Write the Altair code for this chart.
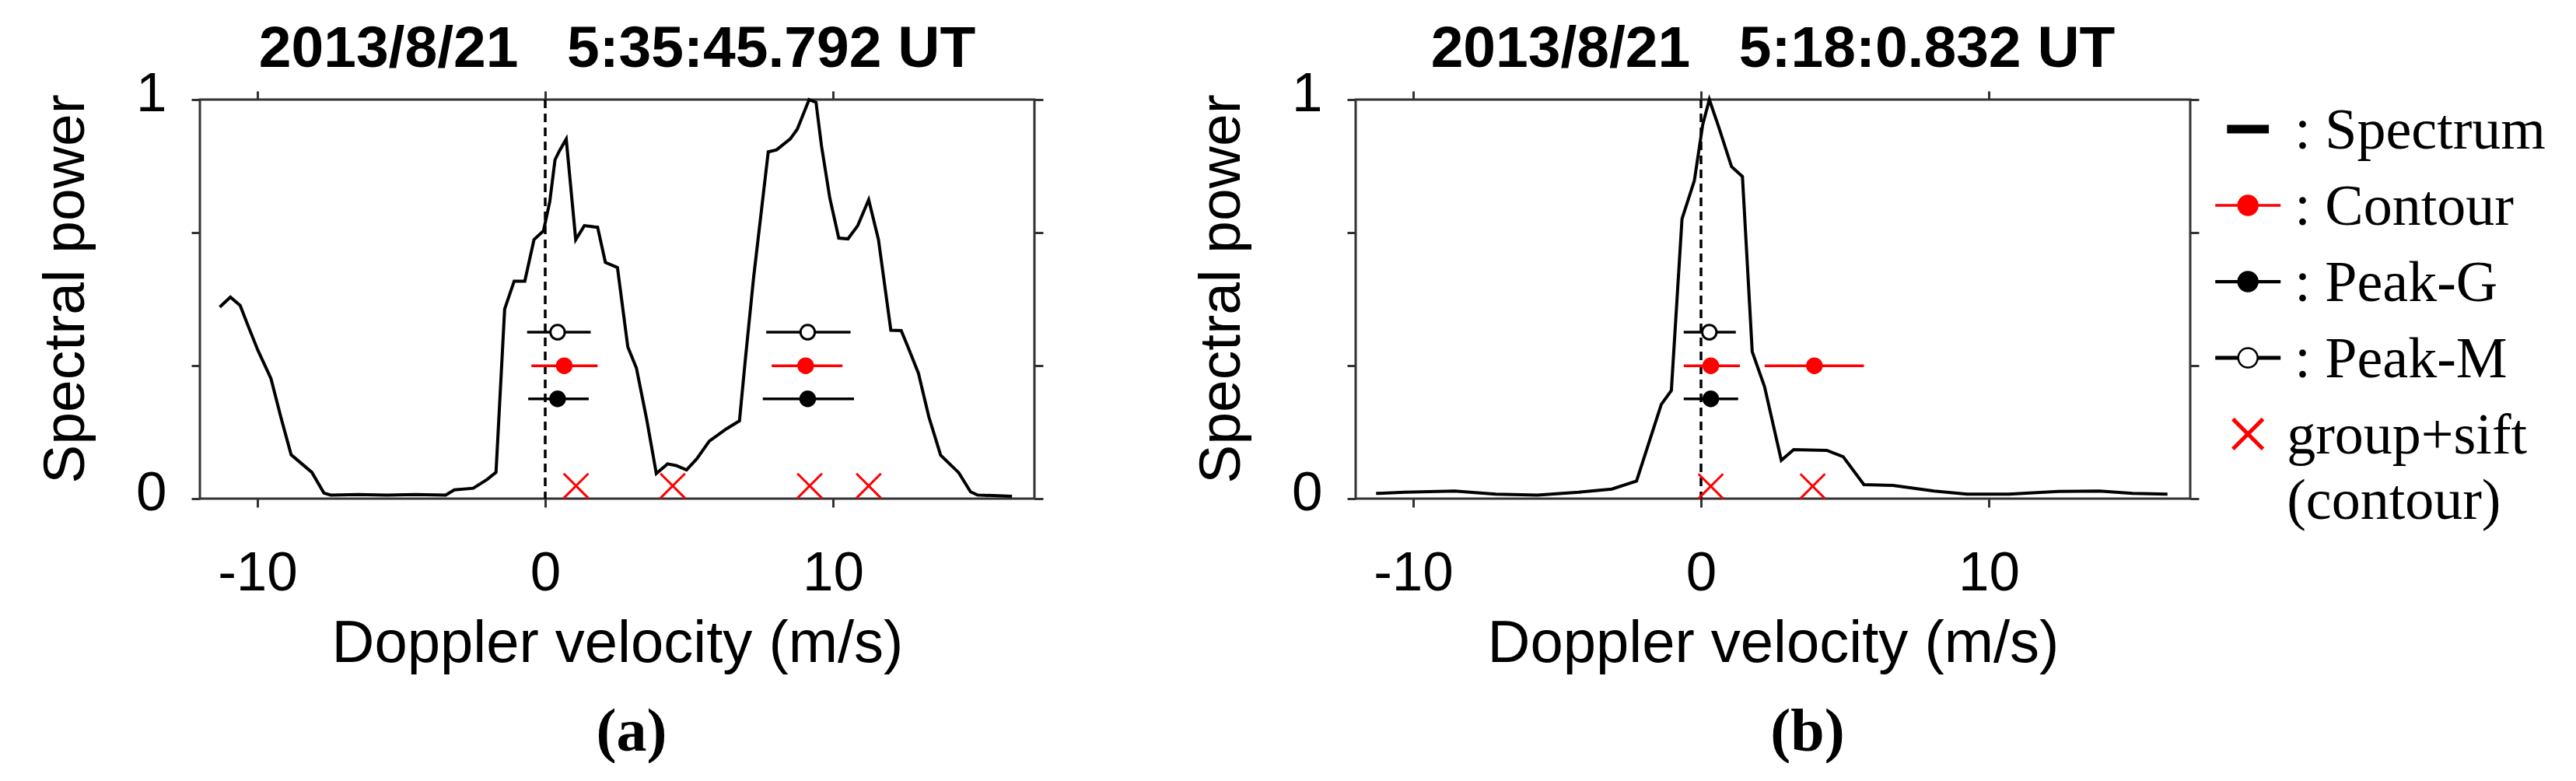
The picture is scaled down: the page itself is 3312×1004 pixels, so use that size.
import altair as alt
import pandas as pd

# ---------------- data ----------------
# Panel (a) spectrum
a_vel = [-11.31, -10.94, -10.60, -10.32, -9.98, -9.53, -9.19, -8.83, -8.47, -8.11,
         -7.69, -7.45, -6.5, -5.5, -4.5, -3.46, -3.16, -2.50, -2.02, -1.71,
         -1.41, -1.08, -0.71, -0.39, -0.06, 0.16, 0.34, 0.49, 0.73, 1.06,
         1.36, 1.82, 2.09, 2.51, 2.87, 3.17, 3.53, 3.86, 4.25, 4.55,
         4.91, 5.27, 5.70, 6.30, 6.75, 6.96, 7.24, 7.75, 8.04, 8.52,
         8.76, 9.17, 9.41, 9.60, 9.89, 10.20, 10.52, 10.86, 11.24, 11.58,
         12.01, 12.37, 12.61, 12.97, 13.33, 13.74, 14.37, 14.78, 15.02, 16.22]
a_pow = [0.480, 0.505, 0.484, 0.432, 0.371, 0.301, 0.205, 0.110, 0.088, 0.066,
         0.014, 0.009, 0.010, 0.009, 0.010, 0.009, 0.022, 0.026, 0.048, 0.066,
         0.475, 0.545, 0.545, 0.649, 0.671, 0.745, 0.849, 0.871, 0.901, 0.649,
         0.684, 0.680, 0.592, 0.579, 0.380, 0.327, 0.197, 0.063, 0.087, 0.083,
         0.072, 0.100, 0.144, 0.175, 0.195, 0.353, 0.553, 0.869, 0.874, 0.902,
         0.926, 1.000, 0.993, 0.884, 0.753, 0.653, 0.651, 0.684, 0.749, 0.649,
         0.422, 0.421, 0.379, 0.314, 0.205, 0.109, 0.065, 0.017, 0.009, 0.006]

# Panel (b) spectrum
b_vel = [-11.29, -10.29, -8.56, -7.13, -5.69, -4.25, -3.10, -2.24, -1.81, -1.38,
         -1.03, -0.66, -0.23, 0.06, 0.29, 0.63, 1.06, 1.44, 1.78, 2.21,
         2.79, 3.22, 4.37, 4.94, 5.66, 6.67, 8.10, 9.25, 10.69, 12.41,
         13.85, 15.00, 16.21]
b_pow = [0.013, 0.016, 0.019, 0.011, 0.009, 0.016, 0.024, 0.044, 0.140, 0.236,
         0.271, 0.701, 0.797, 0.937, 1.000, 0.928, 0.832, 0.807, 0.368, 0.280,
         0.096, 0.123, 0.121, 0.105, 0.035, 0.033, 0.019, 0.011, 0.011, 0.018,
         0.019, 0.013, 0.011]

# Estimates (centre and width) per method
a_method = ["Peak-M", "Contour", "Peak-G", "Peak-M", "Contour", "Peak-G"]
a_center = [0.43, 0.66, 0.43, 9.12, 9.05, 9.12]
a_lo = [-0.63, -0.48, -0.59, 7.68, 7.87, 7.56]
a_hi = [1.58, 1.82, 1.51, 10.61, 10.33, 10.73]
a_level = [0.417, 0.333, 0.25, 0.417, 0.333, 0.25]
a_sift_vel = [1.07, 4.43, 9.19, 11.24]
a_sift_pow = [0.032, 0.032, 0.032, 0.032]

b_method = ["Peak-M", "Contour", "Contour", "Peak-G"]
b_center = [0.29, 0.34, 3.94, 0.34]
b_lo = [-0.60, -0.60, 2.21, -0.60]
b_hi = [1.21, 1.35, 5.66, 1.29]
b_level = [0.417, 0.333, 0.333, 0.25]
b_sift_vel = [0.34, 3.88]
b_sift_pow = [0.031, 0.031]

x_ticks = [-10, 0, 10]
y_ticks = [0, 1 / 3, 2 / 3, 1]

title_a = "2013/8/21\u00a0\u00a0\u00a05:35:45.792 UT"
title_b = "2013/8/21\u00a0\u00a0\u00a05:18:0.832 UT"

methods = ["Contour", "Peak-G", "Peak-M"]
method_stroke = ["#ff0000", "#000000", "#000000"]
method_fill = ["#ff0000", "#000000", "#ffffff"]

legend_rows = ["Spectrum", "Contour", "Peak-G", "Peak-M", "group+sift"]
legend_text = [": Spectrum", ": Contour", ": Peak-G", ": Peak-M", "group+sift\n(contour)"]

# ---------------- styling ----------------
SANS = "Liberation Sans"
SERIF = "Liberation Serif"
FRAME = "#333333"
W, H = 1073, 513
X_PATH = "M-1,-1L1,1M-1,1L1,-1"

xscale = alt.Scale(domain=[-12, 17], nice=False, zero=False)
yscale = alt.Scale(domain=[0, 1], nice=False, zero=False)


def axis_common(**kw):
    base = dict(grid=False, domain=False, tickColor=FRAME, tickWidth=3, tickSize=11,
                labelFont=SANS, labelFontSize=71, labelColor="black",
                titleFont=SANS, titleFontWeight="normal", titleColor="black",
                labelFlush=False, labelOverlap=False)
    base.update(kw)
    return alt.Axis(**base)


bottom_axis = axis_common(orient="bottom", values=x_ticks, labelExpr="'' + datum.value",
                          labelPadding=50, title="Doppler velocity (m/s)",
                          titleFontSize=76, titlePadding=18)
left_axis = axis_common(orient="left", values=y_ticks,
                        labelExpr="datum.value == 0 ? '0' : (datum.value == 1 ? '1' : '')",
                        labelPadding=32, labelOffset=-7, title="Spectral power",
                        titleFontSize=75, titlePadding=51, titleY=243)
top_axis = axis_common(orient="top", values=x_ticks, labels=False, title=None)
right_axis = axis_common(orient="right", values=y_ticks, labels=False, title=None)

stroke_scale = alt.Scale(domain=methods, range=method_stroke)
fill_scale = alt.Scale(domain=methods, range=method_fill)


def panel(vel, pw, meth, cen, lo, hi, lev, svel, spow, title):
    spec_df = pd.DataFrame({"v": vel, "p": pw})
    est_df = pd.DataFrame({"method": meth, "c": cen, "lo": lo, "hi": hi, "lev": lev})
    sift_df = pd.DataFrame({"v": svel, "p": spow})
    zero_df = pd.DataFrame({"v": [0]})

    spec = alt.Chart(spec_df).mark_line(color="black", strokeWidth=4).encode(
        x=alt.X("v:Q", scale=xscale, axis=bottom_axis),
        y=alt.Y("p:Q", scale=yscale, axis=left_axis),
    )
    zero = alt.Chart(zero_df).mark_rule(color="black", strokeWidth=3.5, strokeDash=[11, 7]).encode(
        x=alt.X("v:Q", scale=xscale, axis=None)
    )
    bars = alt.Chart(est_df).mark_rule(strokeWidth=3.5).encode(
        x=alt.X("lo:Q", scale=xscale, axis=None),
        x2="hi:Q",
        y=alt.Y("lev:Q", scale=yscale, axis=None),
        stroke=alt.Stroke("method:N", scale=stroke_scale, legend=None),
    )
    dots = alt.Chart(est_df).mark_point(shape="circle", filled=True, size=340, strokeWidth=3,
                                        opacity=1).encode(
        x=alt.X("c:Q", scale=xscale, axis=None),
        y=alt.Y("lev:Q", scale=yscale, axis=None),
        fill=alt.Fill("method:N", scale=fill_scale, legend=None),
        stroke=alt.Stroke("method:N", scale=stroke_scale, legend=None),
    )
    sift = alt.Chart(sift_df).mark_point(shape=X_PATH, size=1000, stroke="#ff0000",
                                         strokeWidth=3, opacity=1, filled=False).encode(
        x=alt.X("v:Q", scale=xscale, axis=top_axis),
        y=alt.Y("p:Q", scale=yscale, axis=right_axis),
    )
    return alt.layer(spec, zero, bars, dots, sift).resolve_axis(
        x="independent", y="independent"
    ).properties(
        width=W, height=H,
        title=alt.TitleParams(text=title, font=SANS, fontSize=75, fontWeight="bold",
                              color="black", anchor="middle", frame="group", offset=-17,
                              baseline="top"),
    )


def captioned(ch, text, dx):
    return alt.vconcat(ch).properties(
        title=alt.TitleParams(text=text, orient="bottom", font=SERIF, fontSize=78,
                              fontWeight="bold", color="black", anchor="middle",
                              baseline="top", offset=36, dx=dx)
    )


panel_a = captioned(panel(a_vel, a_pow, a_method, a_center, a_lo, a_hi, a_level,
                          a_sift_vel, a_sift_pow, title_a), "(a)", 117)
panel_b = captioned(panel(b_vel, b_pow, b_method, b_center, b_lo, b_hi, b_level,
                          b_sift_vel, b_sift_pow, title_b), "(b)", 143)

# ---------------- hand-built legend ----------------
lx = alt.Scale(domain=[-1.1, 8.9], nice=False, zero=False)
ly = alt.Scale(type="point", domain=legend_rows, padding=0.388)
leg_w, leg_h = 420, 468

dash_df = pd.DataFrame({"row": ["Spectrum"], "lo": [-0.64], "hi": [0.64]})
line_df = pd.DataFrame({"row": ["Contour", "Peak-G", "Peak-M"], "lo": [-1, -1, -1], "hi": [1, 1, 1],
                        "method": ["Contour", "Peak-G", "Peak-M"]})
sym_df = pd.DataFrame({"row": ["Contour", "Peak-G", "Peak-M"], "c": [0, 0, 0],
                       "method": ["Contour", "Peak-G", "Peak-M"]})
sift_leg_df = pd.DataFrame({"row": ["group+sift"], "c": [0]})
text_df = pd.DataFrame({"row": legend_rows, "label": legend_text,
                        "tx": [1.43, 1.43, 1.43, 1.43, 1.19]})

leg_dash = alt.Chart(dash_df).mark_rule(color="black", strokeWidth=11).encode(
    x=alt.X("lo:Q", scale=lx, axis=None), x2="hi:Q",
    y=alt.Y("row:N", scale=ly, axis=None),
)
leg_lines = alt.Chart(line_df).mark_rule().encode(
    x=alt.X("lo:Q", scale=lx, axis=None), x2="hi:Q",
    y=alt.Y("row:N", scale=ly, axis=None),
    stroke=alt.Stroke("method:N", scale=stroke_scale, legend=None),
    strokeWidth=alt.StrokeWidth("method:N", scale=alt.Scale(domain=methods, range=[3.5, 5, 4]),
                                legend=None),
)
leg_dots = alt.Chart(sym_df).mark_point(shape="circle", filled=True, size=620, strokeWidth=2.5,
                                        opacity=1).encode(
    x=alt.X("c:Q", scale=lx, axis=None),
    y=alt.Y("row:N", scale=ly, axis=None),
    fill=alt.Fill("method:N", scale=fill_scale, legend=None),
    stroke=alt.Stroke("method:N", scale=stroke_scale, legend=None),
)
leg_x = alt.Chart(sift_leg_df).mark_point(shape=X_PATH, size=1500, stroke="#ff0000",
                                          strokeWidth=5, opacity=1, filled=False).encode(
    x=alt.X("c:Q", scale=lx, axis=None),
    y=alt.Y("row:N", scale=ly, axis=None),
)
leg_text = alt.Chart(text_df).mark_text(font=SERIF, fontSize=74, color="black", align="left",
                                        baseline="alphabetic", dy=25, lineBreak="\n",
                                        lineHeight=84).encode(
    x=alt.X("tx:Q", scale=lx, axis=None),
    y=alt.Y("row:N", scale=ly, axis=None),
    text="label:N",
)
legend = alt.layer(leg_dash, leg_lines, leg_dots, leg_x, leg_text).properties(
    width=leg_w, height=leg_h, view=alt.ViewBackground(stroke="transparent")
)

chart = alt.hconcat(
    panel_a,
    alt.hconcat(panel_b, legend, spacing=12),
    spacing=188,
).configure_view(stroke=FRAME, strokeWidth=3).properties(
    padding={"left": 38, "top": 16, "right": 0, "bottom": 0},
    background="white",
)

chart.save("out.html", embed_options={"renderer": "svg", "actions": False})
